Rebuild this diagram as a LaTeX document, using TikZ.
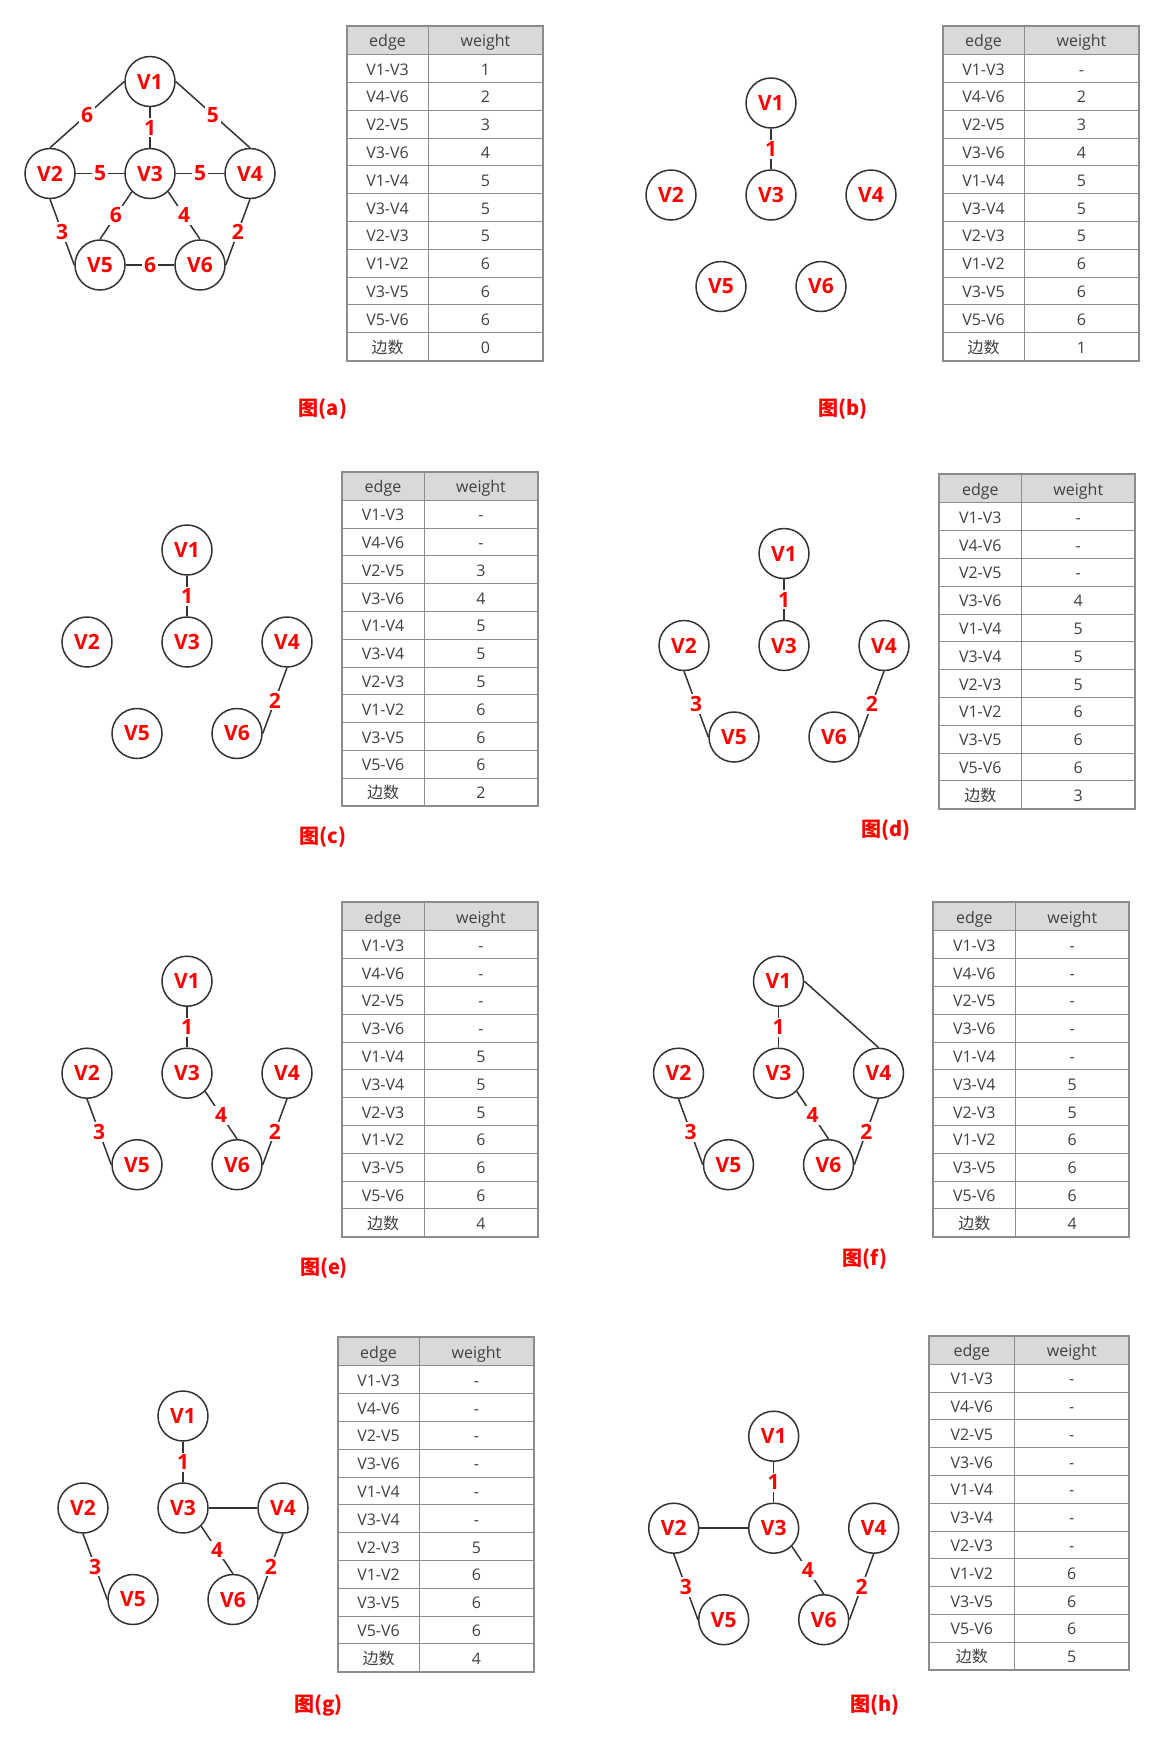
\documentclass[tikz,border=0pt]{standalone}
\usepackage{fontspec}
\setmainfont{Open Sans}
\newfontfamily\cjk{Noto Sans CJK SC}
\usepackage{xcolor}
\definecolor{linegray}{HTML}{333333}
\definecolor{tabgray}{HTML}{8C8C8C}
\definecolor{headgray}{HTML}{D9D9D9}
\definecolor{textgray}{HTML}{404040}

\begin{document}
\begin{tikzpicture}[x=1pt, y=-1pt]
        % ================= 样式定义 =================
        \tikzset{
            % 顶点:白底灰圈,红色粗体
            vnode/.style={circle, draw=linegray, line width=1.5pt, fill=white, minimum size=50pt, inner sep=0pt, text=red, font=\bfseries\fontsize{21}{24}\selectfont},
            % 边
            link/.style={draw=linegray, line width=1.5pt},
            % 边权:白底盖住线
            wlabel/.style={fill=white, inner sep=2pt, text=red, font=\bfseries\fontsize{21}{24}\selectfont},
            % 表格单元
            cell/.style={draw=tabgray, line width=1pt, outer sep=0pt, inner sep=0pt, anchor=north west, minimum height=27.8pt, text=textgray, text height=13pt, text depth=0pt, font=\fontsize{16}{19}\selectfont},
            headcell/.style={cell, fill=headgray, minimum height=28.7pt},
            tabframe/.style={draw=tabgray, line width=2pt},
            % 图题
            figcap/.style={text=red, font=\cjk\bfseries\fontsize{20}{24}\selectfont}
        }

        \useasboundingbox (0,-1.5) rectangle (1164,1747.5);

        % ================= 1. 各子图顶点 =================
        % 以 V3 为中心, 横向间距 100, 纵向 92
        \foreach \p/\cx/\cy in {a/150/172, b/771/193.5, c/187/640.5, d/784/644,
                                e/187/1071.7, f/778.5/1071.7, g/183/1506.5, h/773.7/1526.7} {
            \node[vnode] (\p1) at (\cx,\cy-92) {V1};
            \node[vnode] (\p2) at (\cx-100,\cy) {V2};
            \node[vnode] (\p3) at (\cx,\cy) {V3};
            \node[vnode] (\p4) at (\cx+100,\cy) {V4};
            \node[vnode] (\p5) at (\cx-50,\cy+91.5) {V5};
            \node[vnode] (\p6) at (\cx+50,\cy+91.5) {V6};
        }

        % ================= 2. 边 =================
        % V1-V3: 每个子图都有
        \foreach \p in {a,b,c,d,e,f,g,h}
            \draw[link] (\p1) -- node[wlabel] {1} (\p3);
        % V4-V6
        \foreach \p in {a,c,d,e,f,g,h}
            \draw[link] (\p4.south) -- node[wlabel] {2} (\p6.east);
        % V2-V5
        \foreach \p in {a,d,e,f,g,h}
            \draw[link] (\p2.south) -- node[wlabel] {3} (\p5.west);
        % V3-V6
        \foreach \p in {a,e,f,g,h}
            \draw[link] (\p3.south east) -- node[wlabel] {4} (\p6.north);

        % 图(a) 的其余边
        \draw[link] (a1.west) -- node[wlabel] {6} (a2.north);
        \draw[link] (a1.east) -- node[wlabel] {5} (a4.north);
        \draw[link] (a2) -- node[wlabel] {5} (a3);
        \draw[link] (a3) -- node[wlabel] {5} (a4);
        \draw[link] (a3.south west) -- node[wlabel] {6} (a5.north);
        \draw[link] (a5) -- node[wlabel] {6} (a6);

        % 新加入的边(不标权值)
        \draw[link] (f1.east) -- (f4.north);
        \draw[link] (g3) -- (g4);
        \draw[link] (h2) -- (h3);

        % ================= 3. 表格 =================
        \foreach \p/\tx/\ty/\cw/\ww/\vals in {
                a/346.5/24.5/82/114/{1,2,3,4,5,5,5,6,6,6,0},
                b/942.5/24.5/82/114/{-,2,3,4,5,5,5,6,6,6,1},
                c/342/470/82/114/{-,-,3,4,5,5,5,6,6,6,2},
                d/939.3/472.7/82/114/{-,-,-,4,5,5,5,6,6,6,3},
                e/342/900.7/82/114/{-,-,-,-,5,5,5,6,6,6,4},
                f/933.3/900.7/82/114/{-,-,-,-,-,5,5,6,6,6,4},
                g/337.5/1335.7/82/114/{-,-,-,-,-,-,5,6,6,6,4},
                h/929.3/1334/85/115/{-,-,-,-,-,-,-,6,6,6,5}} {
            % 表头
            \node[headcell, minimum width=\cw pt] (t\p-0-e) at (\tx,\ty) {edge};
            \node[headcell, minimum width=\ww pt] (t\p-0-w) at (\tx+\cw,\ty) {weight};
            % 边列
            \foreach \e [count=\i] in {V1-V3,V4-V6,V2-V5,V3-V6,V1-V4,V3-V4,V2-V3,V1-V2,V3-V5,V5-V6,{\cjk 边数}}
                \node[cell, minimum width=\cw pt] (t\p-\i-e) at (\tx,{\ty+28.7+(\i-1)*27.8}) {\e};
            % 权值列
            \foreach \w [count=\i] in \vals
                \node[cell, minimum width=\ww pt] (t\p-\i-w) at (\tx+\cw,{\ty+28.7+(\i-1)*27.8}) {\w};
            % 外框加粗
            \draw[tabframe] (t\p-0-e.north west) rectangle (t\p-11-w.south east);
        }

        % ================= 4. 图题 =================
        \foreach \p/\x/\y in {a/323/408, b/843/408, c/323/835.5, d/885.6/828.8,
                              e/324/1267, f/865/1258, g/318.6/1704.4, h/875/1704}
            \node[figcap] (cap\p) at (\x,\y) {图(\p)};

    \end{tikzpicture}
\end{document}
